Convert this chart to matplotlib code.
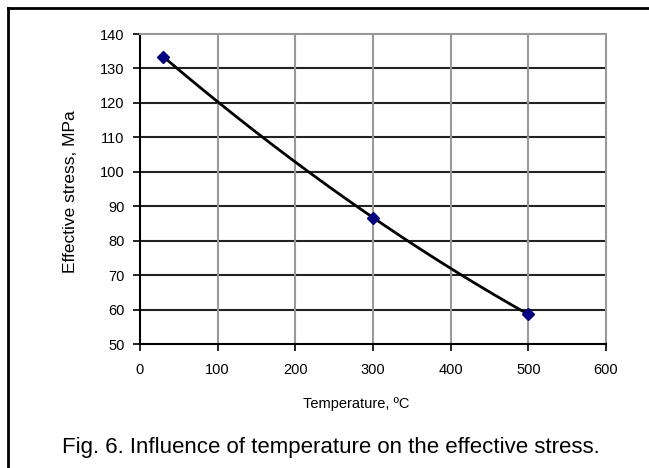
import numpy as np
import matplotlib
matplotlib.use("Agg")
import matplotlib.pyplot as plt
from matplotlib.lines import Line2D

plt.rcParams['font.family'] = ['Liberation Sans', 'DejaVu Sans']

temperature = [30, 300, 500]
stress = [133.4, 86.7, 58.6]
x_ticks = [0, 100, 200, 300, 400, 500, 600]
y_ticks = [50, 60, 70, 80, 90, 100, 110, 120, 130, 140]

W, H = 649, 468
fig = plt.figure(figsize=(W / 100, H / 100), dpi=100)
ax = fig.add_axes([140 / W, 1 - 344 / H, (606 - 140) / W, (344 - 34) / H])

# smooth curve through the points (quadratic)
coef = np.polyfit(temperature, stress, 2)
xs = np.linspace(min(temperature), max(temperature), 200)
ax.plot(xs, np.polyval(coef, xs), color='black', lw=2.0, zorder=3)
ax.plot(temperature, stress, linestyle='none', marker='D', color='#000080',
        markersize=6, zorder=4)

ax.set_xlim(0, 600)
ax.set_ylim(50, 140)
ax.set_xticks(x_ticks)
ax.set_yticks(y_ticks)
ax.tick_params(axis='both', direction='out', length=5, width=1.2, colors='black',
               labelsize=10.5, pad=6)
ax.tick_params(axis='x', pad=9)

for v in y_ticks[1:-1]:
    ax.axhline(v, color='#222222', lw=1.5, zorder=1)
for v in x_ticks[1:-1]:
    ax.axvline(v, color='#999999', lw=1.5, zorder=1)

ax.spines['left'].set_color('black')
ax.spines['bottom'].set_color('black')
ax.spines['left'].set_linewidth(1.5)
ax.spines['bottom'].set_linewidth(1.5)
ax.spines['top'].set_color('#999999')
ax.spines['right'].set_color('#999999')
ax.spines['top'].set_linewidth(1.5)
ax.spines['right'].set_linewidth(1.5)

ax.set_xlabel('Temperature, ºC', fontsize=10.5)
ax.xaxis.set_label_coords((356 - 140) / (606 - 140), -(397 - 344) / (344 - 34))
ax.set_ylabel('Effective stress, MPa', fontsize=12.5)
ax.yaxis.set_label_coords(-(140 - 78) / (606 - 140), 0.49)

fig.text(331 / W, 1 - 448 / H, 'Fig. 6. Influence of temperature on the effective stress.',
         ha='center', va='center', fontsize=16)

# outer frame (top and left)
fig.add_artist(Line2D([8 / W, 1.0], [1 - 8 / H, 1 - 8 / H], color='black', lw=2,
                      transform=fig.transFigure))
fig.add_artist(Line2D([8 / W, 8 / W], [0, 1 - 8 / H], color='black', lw=2,
                      transform=fig.transFigure))

fig.savefig('out.png', dpi=100)
